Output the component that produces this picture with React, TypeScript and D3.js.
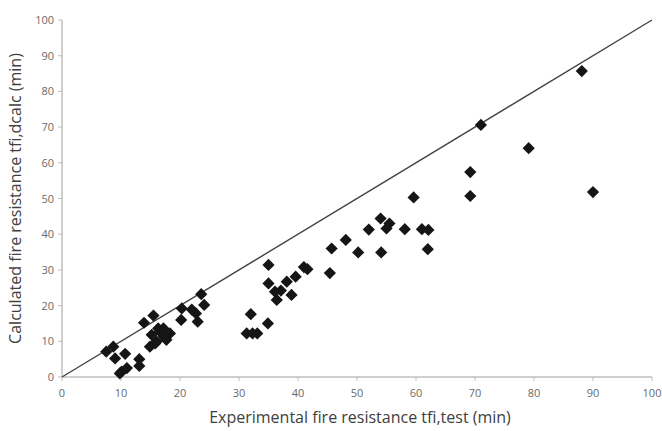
import React from 'react'
import * as d3 from 'd3'

// experimental (x) vs calculated (y) fire resistance, minutes
const testTimes = [
  7.5, 8.7, 9.0, 10.7, 10.1, 11.0, 9.8, 13.1, 13.1,
  13.9, 15.5, 15.2, 14.9, 16.0, 16.6, 17.2, 17.7, 18.3, 17.2, 16.3, 15.8,
  20.3, 22.0, 22.7, 20.2, 23.0, 23.6, 24.1,
  31.3, 32.3, 33.1, 32.0, 34.9, 35.0, 35.0, 36.1, 37.1, 36.4, 38.1, 38.9, 39.6,
  41.0, 41.6, 45.4, 45.7, 48.1, 50.2, 52.0, 54.0, 54.1, 55.0, 55.5, 58.1,
  59.6, 61.0, 62.1, 62.0, 69.2, 69.2, 71.0, 79.1, 88.1, 90.0,
]
const calcTimes = [
  7.1, 8.5, 5.2, 6.5, 1.5, 2.5, 1.0, 5.0, 3.1,
  15.2, 17.2, 11.8, 8.5, 9.9, 12.7, 13.6, 10.4, 12.2, 11.3, 13.6, 9.4,
  19.2, 18.9, 17.8, 16.0, 15.5, 23.2, 20.2,
  12.2, 12.2, 12.2, 17.6, 15.0, 31.4, 26.2, 23.9, 24.2, 21.6, 26.7, 23.0, 28.1,
  30.8, 30.2, 29.1, 36.0, 38.4, 34.9, 41.3, 44.4, 34.9, 41.6, 43.0, 41.4,
  50.3, 41.4, 41.2, 35.8, 57.4, 50.7, 70.6, 64.1, 85.7, 51.8,
]
const ticks = [0, 10, 20, 30, 40, 50, 60, 70, 80, 90, 100]
const xTitle = 'Experimental fire resistance tfi,test (min)'
const yTitle = 'Calculated fire resistance tfi,dcalc (min)'

const W = 662
const H = 431
const font = 'Open Sans, sans-serif'

export default function App() {
  const x = d3.scaleLinear().domain([0, 100]).range([62, 652])
  const y = d3.scaleLinear().domain([0, 100]).range([377, 20])
  const diamond = d3.symbol().type(d3.symbolDiamond2).size(95)()
  const pts = testTimes.map((t, i) => [t, calcTimes[i]])

  return (
    <svg width={W} height={H} style={{ position: 'absolute', left: 0, top: 0, background: '#fff' }}>
      {/* axes */}
      <line x1={x(0)} x2={x(100)} y1={y(0)} y2={y(0)} stroke="#bfbfbf" strokeWidth={1.5} />
      <line x1={x(0)} x2={x(0)} y1={y(0)} y2={y(100)} stroke="#bfbfbf" strokeWidth={1.5} />
      {ticks.map(t => (
        <g key={'x' + t}>
          <line x1={x(t)} x2={x(t)} y1={y(0)} y2={y(0) + 4} stroke="#bfbfbf" />
          <text x={x(t)} y={y(0) + 20} textAnchor="middle" fontFamily={font} fontSize={11} fill="#6a6a6a">{t}</text>
        </g>
      ))}
      {ticks.map(t => (
        <g key={'y' + t}>
          <line x1={x(0) - 4} x2={x(0)} y1={y(t)} y2={y(t)} stroke="#bfbfbf" />
          <text x={x(0) - 8} y={y(t) + 4} textAnchor="end" fontFamily={font} fontSize={11} fill="#6a6a6a">{t}</text>
        </g>
      ))}
      {/* 1:1 line */}
      <line x1={x(0)} y1={y(0)} x2={x(100)} y2={y(100)} stroke="#444" strokeWidth={1.4} />
      {pts.map((p, i) => (
        <path key={i} d={diamond ?? ''} transform={`translate(${x(p[0])},${y(p[1])})`} fill="#151515" />
      ))}
      <text x={360} y={423} textAnchor="middle" fontFamily={font} fontSize={16} fill="#404040">{xTitle}</text>
      <text transform={`translate(21,${(y(0) + y(100)) / 2}) rotate(-90)`} textAnchor="middle" fontFamily={font} fontSize={16} fill="#404040">{yTitle}</text>
    </svg>
  )
}
